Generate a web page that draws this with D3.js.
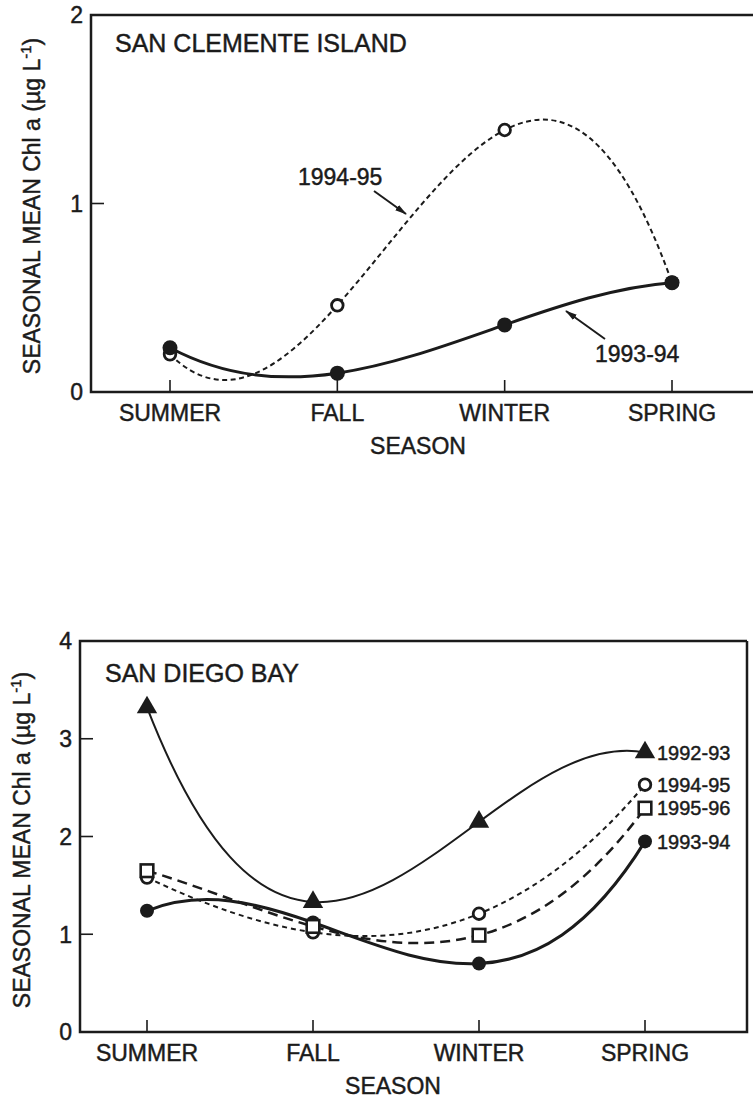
<!DOCTYPE html>
<html>
<head>
<meta charset="utf-8">
<script src="https://cdn.jsdelivr.net/npm/d3@7/dist/d3.min.js"></script>
<style>
  html, body { margin: 0; padding: 0; background: #fff; }
  svg { display: block; }
  text { font-family: "Liberation Sans", Arial, Helvetica, sans-serif; fill: #1b1b1b;
         stroke: #1b1b1b; stroke-width: 0.45px; }
</style>
</head>
<body>
<svg id="fig" width="753" height="1100"></svg>
<script>
// Seasonal mean chlorophyll a, two sites
const seasons = ["SUMMER", "FALL", "WINTER", "SPRING"];

// San Clemente Island
const sciTicks = [0, 1, 2];
const sci9394 = [0.235, 0.10, 0.356, 0.58];
const sci9495 = [0.20, 0.46, 1.39, 0.58];

// San Diego Bay
const sdbTicks = [0, 1, 2, 3, 4];
const sdb9293 = [3.32, 1.33, 2.15, 2.86];
const sdb9394 = [1.24, 1.12, 0.70, 1.95];
const sdb9495 = [1.58, 1.02, 1.21, 2.53];
const sdb9596 = [1.65, 1.08, 0.99, 2.29];

const yTitle = "SEASONAL MEAN Chl a (\u00b5g L";
const ink = "#1b1b1b";

// Smooth curve: the single interpolating polynomial through all points,
// emitted exactly as one cubic Bezier per interval.
function curvePoly(context) {
  return {
    areaStart() {}, areaEnd() {},
    lineStart() { this.xs = []; this.ys = []; },
    point(x, y) { this.xs.push(+x); this.ys.push(+y); },
    lineEnd() {
      const xs = this.xs, ys = this.ys, n = xs.length;
      if (!n) return;
      const lam = xs.map((xk, k) => 1 / xs.reduce((p, xm, m) => m === k ? p : p * (xk - xm), 1));
      const d = xs.map((xj, j) => {
        let s = 0;
        for (let k = 0; k < n; k++) {
          if (k === j) {
            let t = 0;
            for (let m = 0; m < n; m++) if (m !== j) t += 1 / (xj - xs[m]);
            s += ys[j] * t;
          } else {
            s += ys[k] * (lam[k] / lam[j]) / (xj - xs[k]);
          }
        }
        return s;
      });
      context.moveTo(xs[0], ys[0]);
      for (let i = 0; i < n - 1; i++) {
        const dx = xs[i + 1] - xs[i];
        context.bezierCurveTo(xs[i] + dx / 3, ys[i] + d[i] * dx / 3,
                              xs[i + 1] - dx / 3, ys[i + 1] - d[i + 1] * dx / 3,
                              xs[i + 1], ys[i + 1]);
      }
    }
  };
}

const svg = d3.select("#fig");

const defs = svg.append("defs");
defs.append("marker")
  .attr("id", "head")
  .attr("viewBox", "0 0 12 8")
  .attr("refX", 11).attr("refY", 4)
  .attr("markerWidth", 12).attr("markerHeight", 8)
  .attr("markerUnits", "userSpaceOnUse")
  .attr("orient", "auto")
  .append("path").attr("d", "M0,0.8 L12,4 L0,7.2 Z").attr("fill", ink);

function panel(opts) {
  const g = svg.append("g");
  const x = d3.scalePoint().domain(seasons).range(opts.xRange).padding(0);
  const y = d3.scaleLinear().domain([0, opts.yMax]).range([opts.bottom, opts.top]);

  // frame
  g.append("path")
    .attr("d", `M${opts.right},${opts.top} H${opts.left} V${opts.bottom} H${opts.right}` +
               (opts.closed ? ` V${opts.top}` : ""))
    .attr("fill", "none").attr("stroke", ink).attr("stroke-width", 2.5);

  // y ticks (inside) and labels
  g.selectAll(".yt").data(opts.ticks.filter(t => t > 0 && t < opts.yMax)).join("line")
    .attr("x1", opts.left).attr("x2", opts.left + 13)
    .attr("y1", d => y(d)).attr("y2", d => y(d))
    .attr("stroke", ink).attr("stroke-width", 1.6);
  g.selectAll(".yl").data(opts.ticks).join("text")
    .attr("x", opts.left - 8).attr("y", d => y(d))
    .attr("dy", "0.36em").attr("text-anchor", "end")
    .attr("font-size", 23).text(d => d);

  // x ticks (inside) and labels
  g.selectAll(".xt").data(seasons).join("line")
    .attr("x1", d => x(d)).attr("x2", d => x(d))
    .attr("y1", opts.bottom).attr("y2", opts.bottom - 12)
    .attr("stroke", ink).attr("stroke-width", 1.6);
  g.selectAll(".xl").data(seasons).join("text")
    .attr("x", d => x(d)).attr("y", opts.bottom + 29)
    .attr("text-anchor", "middle").attr("font-size", 23).text(d => d);

  g.append("text")
    .attr("x", opts.seasonX).attr("y", opts.bottom + 62)
    .attr("text-anchor", "middle").attr("font-size", 23).text("SEASON");

  // y title with superscript
  const yt = g.append("text")
    .attr("transform", `translate(${opts.yTitleX},${opts.yTitleY}) rotate(-90)`)
    .attr("text-anchor", "middle").attr("font-size", 23);
  yt.append("tspan").text(yTitle);
  yt.append("tspan").attr("dy", -9).attr("font-size", 15).text("-1");
  yt.append("tspan").attr("dy", 9).text(")");

  // panel title
  g.append("text")
    .attr("x", opts.titleX).attr("y", opts.titleY)
    .attr("font-size", 25).text(opts.title);

  const line = d3.line()
    .x((d, i) => x(seasons[i]))
    .y(d => y(d))
    .curve(curvePoly);

  return { g, x, y, line };
}

function drawSeries(p, values, style) {
  p.g.append("path")
    .datum(values)
    .attr("d", p.line)
    .attr("fill", "none")
    .attr("stroke", ink)
    .attr("stroke-width", style.width)
    .attr("stroke-dasharray", style.dash || null)
    .attr("stroke-linejoin", "round");
}

function drawMarkers(p, values, kind, r) {
  const pts = values.map((v, i) => [p.x(seasons[i]), p.y(v)]);
  const sel = p.g.append("g");
  if (kind === "filled") {
    sel.selectAll("circle").data(pts).join("circle")
      .attr("cx", d => d[0]).attr("cy", d => d[1]).attr("r", r || 7)
      .attr("fill", ink);
  } else if (kind === "open") {
    sel.selectAll("circle").data(pts).join("circle")
      .attr("cx", d => d[0]).attr("cy", d => d[1]).attr("r", 5.8)
      .attr("fill", "#fff").attr("stroke", ink).attr("stroke-width", 2.8);
  } else if (kind === "square") {
    sel.selectAll("rect").data(pts).join("rect")
      .attr("x", d => d[0] - 6.3).attr("y", d => d[1] - 6.3)
      .attr("width", 12.6).attr("height", 12.6)
      .attr("fill", "#fff").attr("stroke", ink).attr("stroke-width", 2.6);
  } else if (kind === "triangle") {
    sel.selectAll("path").data(pts).join("path")
      .attr("transform", d => `translate(${d[0]},${d[1]})`)
      .attr("d", d3.symbol(d3.symbolTriangle, 180))
      .attr("fill", ink);
  }
}

// ---------- San Clemente Island ----------
const sciPanel = panel({
  left: 91, right: 770, top: 15, bottom: 392, closed: false,
  xRange: [170, 672], yMax: 2, ticks: sciTicks,
  seasonX: 418, yTitleX: 40, yTitleY: 206,
  title: "SAN CLEMENTE ISLAND", titleX: 115, titleY: 52
});
drawSeries(sciPanel, sci9495, { width: 2, dash: "5,3.5" });
drawSeries(sciPanel, sci9394, { width: 3 });
drawMarkers(sciPanel, sci9495, "open");
drawMarkers(sciPanel, sci9394, "filled", 7.5);

sciPanel.g.append("text").attr("x", 298).attr("y", 185).attr("font-size", 23).text("1994-95");
sciPanel.g.append("line").attr("x1", 374).attr("y1", 191).attr("x2", 406).attr("y2", 214)
  .attr("stroke", ink).attr("stroke-width", 2).attr("marker-end", "url(#head)");
sciPanel.g.append("text").attr("x", 595).attr("y", 362).attr("font-size", 23).text("1993-94");
sciPanel.g.append("line").attr("x1", 605).attr("y1", 339).attr("x2", 566).attr("y2", 311)
  .attr("stroke", ink).attr("stroke-width", 2).attr("marker-end", "url(#head)");

// ---------- San Diego Bay ----------
const sdbPanel = panel({
  left: 80, right: 747, top: 641, bottom: 1032, closed: true,
  xRange: [147, 645], yMax: 4, ticks: sdbTicks,
  seasonX: 393, yTitleX: 30, yTitleY: 840,
  title: "SAN DIEGO BAY", titleX: 105, titleY: 682
});
drawSeries(sdbPanel, sdb9293, { width: 2 });
drawSeries(sdbPanel, sdb9495, { width: 2, dash: "5,4" });
drawSeries(sdbPanel, sdb9596, { width: 2.5, dash: "10,6" });
drawSeries(sdbPanel, sdb9394, { width: 3 });

drawMarkers(sdbPanel, sdb9394, "filled");
drawMarkers(sdbPanel, sdb9495, "open");
drawMarkers(sdbPanel, sdb9596, "square");
drawMarkers(sdbPanel, sdb9293, "triangle");

// series labels beside the spring points
const sdbLabels = [
  { name: "1992-93", values: sdb9293 },
  { name: "1994-95", values: sdb9495 },
  { name: "1995-96", values: sdb9596 },
  { name: "1993-94", values: sdb9394 }
];
sdbPanel.g.selectAll(".lab").data(sdbLabels).join("text")
  .attr("x", sdbPanel.x("SPRING") + 12)
  .attr("y", d => sdbPanel.y(d.values[3]))
  .attr("dy", "0.36em")
  .attr("font-size", 20)
  .text(d => d.name);
</script>
</body>
</html>
